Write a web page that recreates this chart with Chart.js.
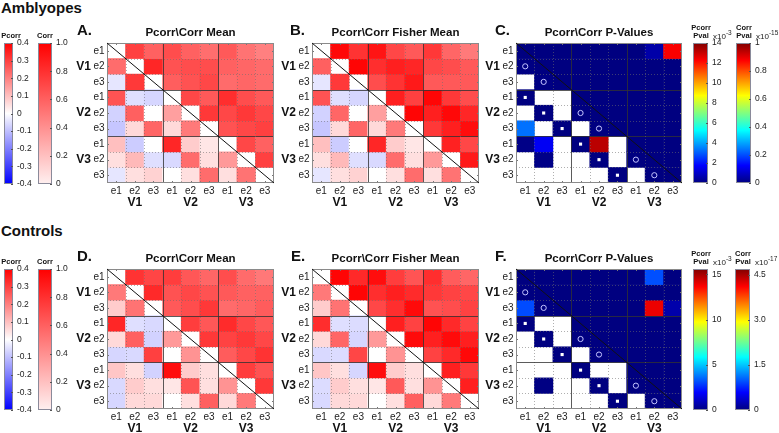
<!DOCTYPE html>
<html>
<head>
<meta charset="utf-8">
<script src="https://cdn.jsdelivr.net/npm/chart.js@4.4.0/dist/chart.umd.min.js"></script>
<style>
  body { margin: 0; background: #fff; width: 779px; height: 433px; overflow: hidden; position: relative;
         font-family: "Liberation Sans", Arial, sans-serif; }
  canvas { position: absolute; left: 0; top: 0; }
  .group { position: absolute; left: 1px; font-weight: bold; font-size: 15px; line-height: 15px; color: #111; }
</style>
</head>
<body>
<div class="group" style="top:0px">Amblyopes</div>
<div class="group" style="top:223px">Controls</div>
<script>
// ---- data ----
const cellLabels = ['V1 e1','V1 e2','V1 e3','V2 e1','V2 e2','V2 e3','V3 e1','V3 e2','V3 e3'];
const eccNames = ['e1','e2','e3'];
const areaNames = ['V1','V2','V3'];

// upper triangle = Corr (0..1), lower triangle = Pcorr (-0.4..0.4)
const ambMean = [
  [null, .75, .62, .70, .62, .57, .65, .55, .50],
  [.23, null, .85, .68, .70, .70, .62, .60, .58],
  [-.04, .31, null, .63, .68, .72, .58, .60, .58],
  [.27, -.05, -.065, null, .72, .65, .82, .70, .65],
  [-.07, .25, 0, .15, null, .78, .72, .78, .72],
  [-.09, .06, .24, .06, .21, null, .68, .72, .75],
  [.10, -.08, 0, .34, .08, .04, null, .72, .62],
  [.05, .11, -.05, -.06, .23, .05, .16, null, .75],
  [-.04, .05, .07, 0, .05, .23, .05, .22, null]
];
const ambFisher = [
  [null, .97, .80, .92, .72, .65, .78, .60, .52],
  [.25, null, .98, .82, .88, .85, .72, .70, .65],
  [-.04, .31, null, .70, .80, .90, .65, .65, .65],
  [.27, -.05, -.065, null, .88, .75, .98, .78, .70],
  [-.07, .24, 0, .15, null, .98, .88, .97, .85],
  [-.09, .06, .24, .06, .21, null, .78, .88, .95],
  [.10, -.08, 0, .34, .08, .04, null, .87, .72],
  [.05, .11, -.05, -.06, .23, .05, .16, null, .90],
  [-.04, .05, .07, 0, .05, .23, .05, .22, null]
];
const ctlMean = [
  [null, .80, .73, .76, .66, .60, .70, .58, .53],
  [.21, null, .84, .68, .72, .68, .65, .62, .62],
  [.08, .22, null, .65, .70, .78, .58, .60, .64],
  [.34, -.05, -.06, null, .76, .66, .83, .72, .66],
  [.06, .25, -.07, .16, null, .78, .74, .78, .72],
  [-.065, -.06, .30, 0, .17, null, .64, .72, .80],
  [.09, .05, -.07, .38, .08, .05, null, .76, .68],
  [-.06, .08, .05, .04, .27, .05, .17, null, .78],
  [-.065, .06, .06, 0, .05, .25, .06, .21, null]
];
const ctlFisher = [
  [null, .98, .84, .95, .76, .67, .82, .64, .60],
  [.21, null, .98, .82, .88, .83, .78, .74, .72],
  [.08, .22, null, .72, .82, .96, .68, .70, .74],
  [.33, -.05, -.055, null, .88, .74, .98, .84, .74],
  [.06, .24, -.065, .16, null, .96, .88, .96, .88],
  [-.06, -.055, .29, 0, .17, null, .74, .84, .97],
  [.09, .05, -.065, .38, .08, .05, null, .88, .78],
  [-.055, .08, .05, .04, .26, .05, .17, null, .88],
  [-.06, .06, .06, 0, .05, .25, .06, .21, null]
];
// upper = Corr p-value (x1e-15 / x1e-17), lower = Pcorr p-value (x1e-3); null = not shown
const ambPval = [
  [0, 0, 0, 0, 0, 0, 0, .04, .88],
  [.05, 0, 0, 0, 0, 0, 0, 0, 0],
  [null, .05, 0, 0, 0, 0, 0, 0, 0],
  [0, null, null, 0, 0, 0, 0, 0, 0],
  [null, 0, null, 0, 0, 0, 0, 0, 0],
  [3.3, null, 0, null, 0, 0, 0, 0, 0],
  [.1, 1.6, null, 0, 13.2, null, 0, 0, 0],
  [null, .1, null, null, 0, null, 0, 0, 0],
  [null, null, null, null, null, 0, null, 0, 0]
];
const ctlPval = [
  [0, 0, 0, 0, 0, 0, 0, .95, 0],
  [0, 0, 0, 0, 0, 0, 0, 0, 0],
  [3.1, 0, 0, 0, 0, 0, 0, 4.2, .2],
  [0, null, null, 0, 0, 0, 0, 0, 0],
  [null, 0, null, 0, 0, 0, 0, 0, 0],
  [null, null, 0, null, 0, 0, 0, 0, 0],
  [null, null, null, 0, null, null, 0, 0, 0],
  [null, .05, null, null, 0, null, 0, 0, 0],
  [null, null, null, null, null, 0, null, 0, 0]
];
const circleCells = [[2,1],[3,2],[5,4],[6,5],[8,7],[9,8]];
const squareCells = [[4,1],[5,2],[6,3],[7,4],[8,5],[9,6]];

const pcorrTicks = [-0.4, -0.3, -0.2, -0.1, 0, 0.1, 0.2, 0.3, 0.4];
const corrTicks = [0, 0.2, 0.4, 0.6, 0.8, 1.0];
const ambPcorrPvalTicks = [0, 2, 4, 6, 8, 10, 12, 14];
const ambCorrPvalTicks = [0, 0.2, 0.4, 0.6, 0.8, 1];
const ctlPcorrPvalTicks = [0, 5, 10, 15];
const ctlCorrPvalTicks = [0, 1.5, 3.0, 4.5];

// ---- helpers ----
const W = 779, H = 433;
const FONT = '"Liberation Sans", Arial, sans-serif';

function redBlue(v, vmax) {
  const t = Math.min(Math.abs(v) / vmax, 1);
  const k = Math.round(255 * (1 - t));
  return v >= 0 ? `rgb(255,${k},${k})` : `rgb(${k},${k},255)`;
}
function jet(t) {
  t = Math.max(0, Math.min(1, t));
  const f = (x) => Math.round(255 * Math.max(0, Math.min(1, 1.5 - Math.abs(4 * t - x))));
  return `rgb(${f(3)},${f(2)},${f(1)})`;
}
function makeCanvas() {
  const c = document.createElement('canvas');
  c.width = W; c.height = H;
  document.body.appendChild(c);
  return c;
}
function pad(a) { return { left: a[0], top: a[1], right: W - a[2], bottom: H - a[3] }; }
function text(ctx, s, x, y, size, bold, align) {
  ctx.font = (bold ? 'bold ' : '') + size + 'px ' + FONT;
  ctx.textAlign = align || 'center';
  ctx.textBaseline = 'middle';
  ctx.fillText(s, x, y);
}
function line(ctx, x1, y1, x2, y2) {
  ctx.beginPath(); ctx.moveTo(x1, y1); ctx.lineTo(x2, y2); ctx.stroke();
}

// grid, diagonal, labels of a 9x9 panel
function matrixDecor(p) {
  return {
    id: 'matrixDecor',
    afterDatasetDraw(chart, args) {
      if (args.index !== 0) return;
      const ctx = chart.ctx, xs = chart.scales.x, ys = chart.scales.y, a = chart.chartArea;
      const half = (xs.getPixelForValue(1) - xs.getPixelForValue(0)) / 2;
      ctx.save();
      ctx.lineWidth = 1;
      for (let i = 1; i < 9; i++) {
        const px = Math.round(xs.getPixelForValue(i) - half) + 0.5;
        const py = Math.round(ys.getPixelForValue(i)) + 0.5;
        const major = i % 3 === 0;
        ctx.setLineDash(major ? [] : [1, 2]);
        ctx.strokeStyle = major ? 'rgba(50,50,50,0.8)' : 'rgba(110,110,110,0.55)';
        line(ctx, px, a.top, px, a.bottom);
        line(ctx, a.left, py, a.right, py);
      }
      ctx.setLineDash([]);
      ctx.strokeStyle = '#777';
      for (let i = 0; i < 9; i++) {
        const px = Math.round(xs.getPixelForValue(i)) + 0.5;
        const py = Math.round(ys.getPixelForValue(i + 0.5)) + 0.5;
        line(ctx, px, a.bottom, px, a.bottom - 2);
        line(ctx, px, a.top, px, a.top + 2);
        line(ctx, a.left, py, a.left + 2, py);
        line(ctx, a.right, py, a.right - 2, py);
      }
      ctx.strokeStyle = '#8a8a8a';
      ctx.strokeRect(a.left + 0.5, a.top + 0.5, a.right - a.left - 1, a.bottom - a.top - 1);
      ctx.strokeStyle = '#111';
      line(ctx, a.left, a.top, a.right, a.bottom);
      ctx.restore();
    },
    afterDraw(chart) {
      const ctx = chart.ctx, xs = chart.scales.x, ys = chart.scales.y, a = chart.chartArea;
      ctx.save();
      ctx.fillStyle = '#222';
      for (let i = 0; i < 9; i++) {
        const lab = eccNames[i % 3];
        text(ctx, lab, a.left - 2.5, ys.getPixelForValue(i + 0.5), 10, false, 'right');
        text(ctx, lab, xs.getPixelForValue(i), a.bottom + 8, 10, false, 'center');
      }
      ctx.fillStyle = '#111';
      for (let g = 0; g < 3; g++) {
        text(ctx, areaNames[g], a.left - 16, ys.getPixelForValue(g * 3 + 1.5), 12, true, 'right');
        text(ctx, areaNames[g], xs.getPixelForValue(g * 3 + 1), a.bottom + 20, 12, true, 'center');
      }
      text(ctx, p.title, (a.left + a.right) / 2, a.top - 10, 11.5, true, 'center');
      text(ctx, p.letter, p.letterX, a.top - 12, 15, true, 'left');
      ctx.restore();
    }
  };
}

function matrixChart(p) {
  const datasets = [];
  for (let r = 0; r < 9; r++) {
    datasets.push({
      type: 'bar',
      data: p.mat[r].map(v => v === null ? null : [r, r + 1]),
      backgroundColor: p.mat[r].map((v, c) => v === null ? 'rgba(0,0,0,0)' : (c >= r ? p.upper(v) : p.lower(v))),
      borderWidth: 0, grouped: false, barPercentage: 1, categoryPercentage: 1, order: 1
    });
  }
  if (p.marks) {
    datasets.push({
      type: 'scatter', order: 0,
      data: circleCells.map(([r, c]) => ({ x: cellLabels[c - 1], y: r - 0.5 })),
      pointStyle: 'circle', pointRadius: 2.6, borderWidth: 1,
      borderColor: '#c4c4ff', backgroundColor: 'rgba(0,0,0,0)'
    });
    datasets.push({
      type: 'scatter', order: 0,
      data: squareCells.map(([r, c]) => ({ x: cellLabels[c - 1], y: r - 0.5 })),
      pointStyle: 'rect', pointRadius: 2.2, borderWidth: 0, backgroundColor: '#ffffff'
    });
  }
  new Chart(makeCanvas(), {
    type: 'bar',
    data: { labels: cellLabels, datasets },
    options: {
      responsive: false, animation: false, events: [],
      layout: { padding: pad(p.area) },
      scales: {
        x: { type: 'category', display: false, offset: true },
        y: { type: 'linear', display: false, min: 0, max: 9, reverse: true }
      },
      plugins: { legend: { display: false }, tooltip: { enabled: false } }
    },
    plugins: [matrixDecor(p)]
  });
}

function colorbar(cb) {
  const deco = {
    id: 'cbDecor',
    afterDraw(chart) {
      const ctx = chart.ctx, ys = chart.scales.y, a = chart.chartArea;
      ctx.save();
      ctx.strokeStyle = '#8a8a9a';
      ctx.lineWidth = 1;
      ctx.strokeRect(a.left + 0.5, a.top + 0.5, a.right - a.left - 1, a.bottom - a.top - 1);
      ctx.fillStyle = '#222';
      cb.ticks.forEach(t => {
        const py = ys.getPixelForValue(t);
        ctx.strokeStyle = '#555';
        line(ctx, a.right - 2, Math.round(py) + 0.5, a.right, Math.round(py) + 0.5);
        text(ctx, cb.fmt(t), a.right + 4, py, 8.5, false, 'left');
      });
      ctx.fillStyle = '#111';
      cb.head.forEach((h, i) => {
        text(ctx, h, cb.headX, a.top - (cb.head.length - i) * 8 + 0.5, 7.5, true, 'center');
      });
      if (cb.expo) {
        ctx.fillStyle = '#222';
        text(ctx, 'x10', a.right + 5, a.top - 6, 8, false, 'left');
        const w = ctx.measureText('x10').width;
        text(ctx, cb.expo, a.right + 5 + w, a.top - 10, 6.5, false, 'left');
      }
      ctx.restore();
    }
  };
  new Chart(makeCanvas(), {
    type: 'bar',
    data: {
      labels: [''],
      datasets: [{
        data: [[cb.min, cb.max]],
        borderWidth: 0, barPercentage: 1, categoryPercentage: 1,
        backgroundColor: (c) => {
          const ca = c.chart.chartArea;
          if (!ca) return null;
          const g = c.chart.ctx.createLinearGradient(0, ca.bottom, 0, ca.top);
          cb.stops.forEach(([o, col]) => g.addColorStop(o, col));
          return g;
        }
      }]
    },
    options: {
      responsive: false, animation: false, events: [],
      layout: { padding: pad(cb.area) },
      scales: {
        x: { display: false },
        y: { display: false, min: cb.min, max: cb.max }
      },
      plugins: { legend: { display: false }, tooltip: { enabled: false } }
    },
    plugins: [deco]
  });
}

const jetStops = Array.from({ length: 17 }, (_, i) => [i / 16, jet(i / 16)]);
const pcorrStops = [[0, 'rgb(0,0,255)'], [0.5, 'rgb(255,255,255)'], [1, 'rgb(255,0,0)']];
const corrStops = [[0, 'rgb(255,240,240)'], [1, 'rgb(255,0,0)']];
const fmt1 = v => v === 0 ? '0' : v.toFixed(1);
const fmtPlain = v => String(v);

// ---- panels ----
const corrColor = v => redBlue(v, 1);
const pcorrColor = v => redBlue(v, 0.4);

matrixChart({ area: [107, 43, 274, 183], letter: 'A.', letterX: 77, title: 'Pcorr\\Corr Mean', mat: ambMean, upper: corrColor, lower: pcorrColor });
matrixChart({ area: [312, 43, 479, 183], letter: 'B.', letterX: 290, title: 'Pcorr\\Corr Fisher Mean', mat: ambFisher, upper: corrColor, lower: pcorrColor });
matrixChart({ area: [516, 43, 682, 183], letter: 'C.', letterX: 495, title: 'Pcorr\\Corr P-Values', mat: ambPval,
  upper: v => jet(v / 1), lower: v => jet(v / 14), marks: true });
matrixChart({ area: [107, 269, 274, 409], letter: 'D.', letterX: 77, title: 'Pcorr\\Corr Mean', mat: ctlMean, upper: corrColor, lower: pcorrColor });
matrixChart({ area: [312, 269, 479, 409], letter: 'E.', letterX: 291, title: 'Pcorr\\Corr Fisher Mean', mat: ctlFisher, upper: corrColor, lower: pcorrColor });
matrixChart({ area: [516, 269, 682, 409], letter: 'F.', letterX: 495, title: 'Pcorr\\Corr P-Values', mat: ctlPval,
  upper: v => jet(v / 4.7), lower: v => jet(v / 15.6), marks: true });

// ---- colorbars ----
[43, 269].forEach(top => {
  const bottom = top === 43 ? 184 : 410;
  colorbar({ area: [4, top, 13, bottom], min: -0.4, max: 0.4, ticks: pcorrTicks, fmt: v => v === 0 ? '0' : String(v),
    stops: pcorrStops, head: ['Pcorr'], headX: 11 });
  colorbar({ area: [38, top, 52, bottom], min: 0, max: 1, ticks: corrTicks, fmt: fmt1,
    stops: corrStops, head: ['Corr'], headX: 45 });
});
colorbar({ area: [693, 43, 708, 183], min: 0, max: 14, ticks: ambPcorrPvalTicks, fmt: fmtPlain,
  stops: jetStops, head: ['Pcorr', 'Pval'], headX: 701, expo: '-3' });
colorbar({ area: [736, 43, 751, 183], min: 0, max: 1, ticks: ambCorrPvalTicks, fmt: fmtPlain,
  stops: jetStops, head: ['Corr', 'Pval'], headX: 744, expo: '-15' });
colorbar({ area: [693, 269, 708, 410], min: 0, max: 15.6, ticks: ctlPcorrPvalTicks, fmt: fmtPlain,
  stops: jetStops, head: ['Pcorr', 'Pval'], headX: 701, expo: '-3' });
colorbar({ area: [735, 269, 750, 410], min: 0, max: 4.7, ticks: ctlCorrPvalTicks, fmt: fmt1,
  stops: jetStops, head: ['Corr', 'Pval'], headX: 743, expo: '-17' });
</script>
</body>
</html>
